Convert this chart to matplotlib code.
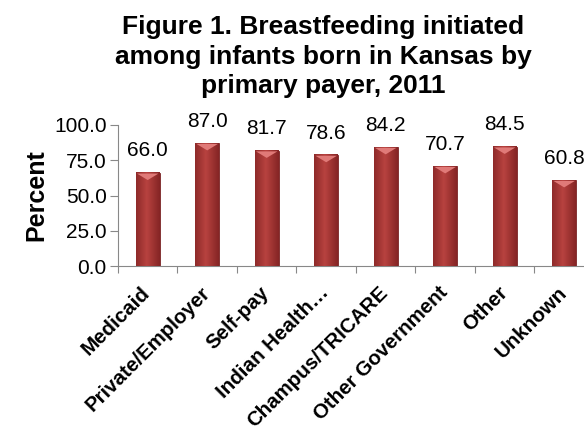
import matplotlib
matplotlib.use("Agg")
import matplotlib.pyplot as plt
import numpy as np

categories = ["Medicaid", "Private/Employer", "Self-pay", "Indian Health…",
              "Champus/TRICARE", "Other Government", "Other", "Unknown"]
percent = [66.0, 87.0, 81.7, 78.6, 84.2, 70.7, 84.5, 60.8]
y_ticks = [0, 25, 50, 75, 100]

plt.rcParams["font.family"] = ["Liberation Sans", "DejaVu Sans"]

fig = plt.figure(figsize=(5.84, 4.28), dpi=100)
ax = fig.add_axes([0.202, 0.378, 0.815, 0.330])

x = np.arange(len(categories))
bars = ax.bar(x, percent, width=0.4, color="#9b3433", edgecolor="#7a2526",
              linewidth=0.6, zorder=2)

# horizontal shading across each bar, lighter in the middle
n = 50
pos = np.linspace(0, 1, n)
prof = np.clip(1 - np.abs(pos - 0.45) * 1.5, 0, 1)
base = np.array([0.48, 0.12, 0.12])
light = np.array([0.72, 0.26, 0.25])
shade = np.ones((1, n, 4))
shade[0, :, :3] = base + (light - base) * prof[:, None]

for b in bars:
    bx, bw, bh = b.get_x(), b.get_width(), b.get_height()
    ax.imshow(shade, extent=[bx, bx + bw, 0, bh], aspect="auto", zorder=3)
    # light cap at the top of the bar
    ax.fill([bx + 0.05 * bw, bx + 0.95 * bw, bx + 0.5 * bw],
            [bh - 0.4, bh - 0.4, bh - 5], color="#e07a78", zorder=4, lw=0)

for xi, v in zip(x, percent):
    ax.annotate(f"{v:.1f}", (xi, v), xytext=(0, 9), textcoords="offset points",
                ha="center", va="bottom", fontsize=15)

ax.set_xlim(-0.5, len(categories) - 0.5)
ax.set_ylim(0, 100)
ax.set_yticks(y_ticks)
ax.set_yticklabels([f"{t:.1f}" for t in y_ticks], fontsize=15)
ax.set_xticks(np.arange(len(categories) + 1) - 0.5)
ax.set_xticklabels([])
# label anchors sit a little left of the bar centres
ax.set_xticks(x - 0.12, minor=True)
ax.set_xticklabels(categories, minor=True, rotation=45, ha="right",
                   rotation_mode="anchor", fontsize=14.8, fontweight="bold")
ax.tick_params(axis="x", which="minor", length=0, pad=12)
ax.tick_params(axis="x", which="major", length=5, color="#888888", direction="out")
ax.tick_params(axis="y", length=6, color="#888888", pad=2)

for s in ["top", "right"]:
    ax.spines[s].set_visible(False)
for s in ["left", "bottom"]:
    ax.spines[s].set_color("#888888")

ax.set_ylabel("Percent", fontsize=18, fontweight="bold", labelpad=4)
fig.suptitle("Figure 1. Breastfeeding initiated\namong infants born in Kansas by\nprimary payer, 2011",
             x=0.553, y=0.965, fontsize=19, fontweight="bold", linespacing=1.3)

fig.savefig("out.png", dpi=100)
